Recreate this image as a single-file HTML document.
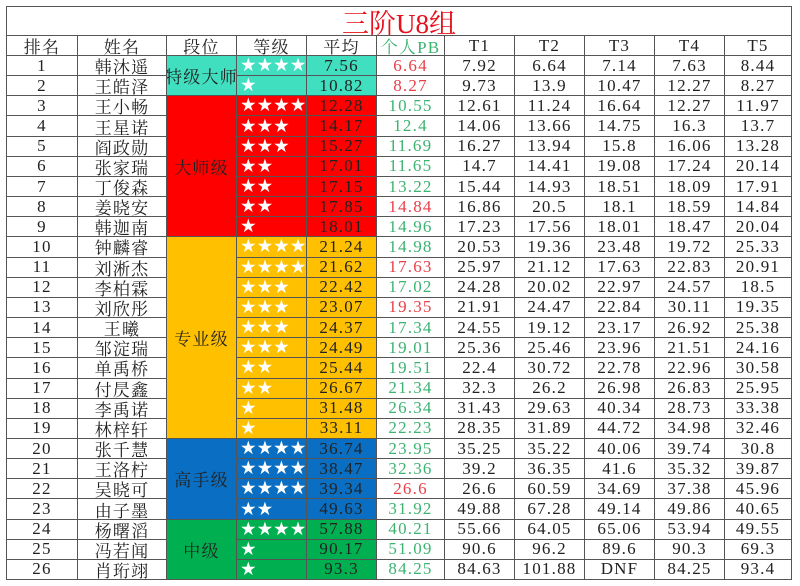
<!DOCTYPE html>
<html><head><meta charset="utf-8"><style>
*{margin:0;padding:0;box-sizing:border-box}
body{width:800px;height:586px;background:#fff;overflow:hidden;position:relative;font-family:"Liberation Serif","Noto Serif CJK SC",serif;color:#222}
.g{position:absolute;left:6px;top:6px;display:grid;background:#555;gap:1px;padding:1px;
grid-template-columns:70px 88px 69px 69px 69px 67px 69px 69px 69px 69px 66px;
grid-template-rows:28px 19px repeat(26,19.16px)}
.g>div{background:#fff;display:flex;align-items:center;justify-content:center;font-size:17px;letter-spacing:1.2px;white-space:nowrap;overflow:hidden}
.t{grid-column:1/12;color:#e8101a;font-size:27px!important;letter-spacing:0!important}
.s{justify-content:flex-start!important;color:#fff;font-family:"DejaVu Sans",sans-serif!important;font-size:18.5px!important;padding-left:3px;letter-spacing:0!important}
.a{background:#40dfbf!important}.b{background:#ff0000!important}.c{background:#ffc000!important}.d{background:#0a6fc2!important}.e{background:#00b050!important}
.r{color:#e8404a}.n{color:#3cb371}
</style></head><body>
<div class="g">
<div class="t">三阶U8组</div>
<div>排名</div><div>姓名</div><div>段位</div><div>等级</div><div>平均</div><div class="n">个人PB</div><div>T1</div><div>T2</div><div>T3</div><div>T4</div><div>T5</div>

<div>1</div><div>韩沐遥</div><div class="a" style="grid-column:3;grid-row:3/5">特级大师</div><div class="s a">★★★★</div><div class="a">7.56</div><div class="r">6.64</div><div>7.92</div><div>6.64</div><div>7.14</div><div>7.63</div><div>8.44</div>
<div>2</div><div>王皓泽</div><div class="s a">★</div><div class="a">10.82</div><div class="r">8.27</div><div>9.73</div><div>13.9</div><div>10.47</div><div>12.27</div><div>8.27</div>
<div>3</div><div>王小畅</div><div class="b" style="grid-column:3;grid-row:5/12">大师级</div><div class="s b">★★★★</div><div class="b">12.28</div><div class="n">10.55</div><div>12.61</div><div>11.24</div><div>16.64</div><div>12.27</div><div>11.97</div>
<div>4</div><div>王星诺</div><div class="s b">★★★</div><div class="b">14.17</div><div class="n">12.4</div><div>14.06</div><div>13.66</div><div>14.75</div><div>16.3</div><div>13.7</div>
<div>5</div><div>阎政勋</div><div class="s b">★★★</div><div class="b">15.27</div><div class="n">11.69</div><div>16.27</div><div>13.94</div><div>15.8</div><div>16.06</div><div>13.28</div>
<div>6</div><div>张家瑞</div><div class="s b">★★</div><div class="b">17.01</div><div class="n">11.65</div><div>14.7</div><div>14.41</div><div>19.08</div><div>17.24</div><div>20.14</div>
<div>7</div><div>丁俊森</div><div class="s b">★★</div><div class="b">17.15</div><div class="n">13.22</div><div>15.44</div><div>14.93</div><div>18.51</div><div>18.09</div><div>17.91</div>
<div>8</div><div>姜晓安</div><div class="s b">★★</div><div class="b">17.85</div><div class="r">14.84</div><div>16.86</div><div>20.5</div><div>18.1</div><div>18.59</div><div>14.84</div>
<div>9</div><div>韩迦南</div><div class="s b">★</div><div class="b">18.01</div><div class="n">14.96</div><div>17.23</div><div>17.56</div><div>18.01</div><div>18.47</div><div>20.04</div>
<div>10</div><div>钟麟睿</div><div class="c" style="grid-column:3;grid-row:12/22">专业级</div><div class="s c">★★★★</div><div class="c">21.24</div><div class="n">14.98</div><div>20.53</div><div>19.36</div><div>23.48</div><div>19.72</div><div>25.33</div>
<div>11</div><div>刘淅杰</div><div class="s c">★★★★</div><div class="c">21.62</div><div class="r">17.63</div><div>25.97</div><div>21.12</div><div>17.63</div><div>22.83</div><div>20.91</div>
<div>12</div><div>李柏霖</div><div class="s c">★★★</div><div class="c">22.42</div><div class="n">17.02</div><div>24.28</div><div>20.02</div><div>22.97</div><div>24.57</div><div>18.5</div>
<div>13</div><div>刘欣彤</div><div class="s c">★★★</div><div class="c">23.07</div><div class="r">19.35</div><div>21.91</div><div>24.47</div><div>22.84</div><div>30.11</div><div>19.35</div>
<div>14</div><div>王曦</div><div class="s c">★★★</div><div class="c">24.37</div><div class="n">17.34</div><div>24.55</div><div>19.12</div><div>23.17</div><div>26.92</div><div>25.38</div>
<div>15</div><div>邹淀瑞</div><div class="s c">★★★</div><div class="c">24.49</div><div class="n">19.01</div><div>25.36</div><div>25.46</div><div>23.96</div><div>21.51</div><div>24.16</div>
<div>16</div><div>单禹桥</div><div class="s c">★★</div><div class="c">25.44</div><div class="n">19.51</div><div>22.4</div><div>30.72</div><div>22.78</div><div>22.96</div><div>30.58</div>
<div>17</div><div>付昃鑫</div><div class="s c">★★</div><div class="c">26.67</div><div class="n">21.34</div><div>32.3</div><div>26.2</div><div>26.98</div><div>26.83</div><div>25.95</div>
<div>18</div><div>李禹诺</div><div class="s c">★</div><div class="c">31.48</div><div class="n">26.34</div><div>31.43</div><div>29.63</div><div>40.34</div><div>28.73</div><div>33.38</div>
<div>19</div><div>林梓轩</div><div class="s c">★</div><div class="c">33.11</div><div class="n">22.23</div><div>28.35</div><div>31.89</div><div>44.72</div><div>34.98</div><div>32.46</div>
<div>20</div><div>张千慧</div><div class="d" style="grid-column:3;grid-row:22/26">高手级</div><div class="s d">★★★★</div><div class="d">36.74</div><div class="n">23.95</div><div>35.25</div><div>35.22</div><div>40.06</div><div>39.74</div><div>30.8</div>
<div>21</div><div>王洛柠</div><div class="s d">★★★★</div><div class="d">38.47</div><div class="n">32.36</div><div>39.2</div><div>36.35</div><div>41.6</div><div>35.32</div><div>39.87</div>
<div>22</div><div>吴晓可</div><div class="s d">★★★★</div><div class="d">39.34</div><div class="r">26.6</div><div>26.6</div><div>60.59</div><div>34.69</div><div>37.38</div><div>45.96</div>
<div>23</div><div>由子墨</div><div class="s d">★★</div><div class="d">49.63</div><div class="n">31.92</div><div>49.88</div><div>67.28</div><div>49.14</div><div>49.86</div><div>40.65</div>
<div>24</div><div>杨曙滔</div><div class="e" style="grid-column:3;grid-row:26/29">中级</div><div class="s e">★★★★</div><div class="e">57.88</div><div class="n">40.21</div><div>55.66</div><div>64.05</div><div>65.06</div><div>53.94</div><div>49.55</div>
<div>25</div><div>冯若闻</div><div class="s e">★</div><div class="e">90.17</div><div class="n">51.09</div><div>90.6</div><div>96.2</div><div>89.6</div><div>90.3</div><div>69.3</div>
<div>26</div><div>肖珩翊</div><div class="s e">★</div><div class="e">93.3</div><div class="n">84.25</div><div>84.63</div><div>101.88</div><div>DNF</div><div>84.25</div><div>93.4</div>
</div>
</body></html>
